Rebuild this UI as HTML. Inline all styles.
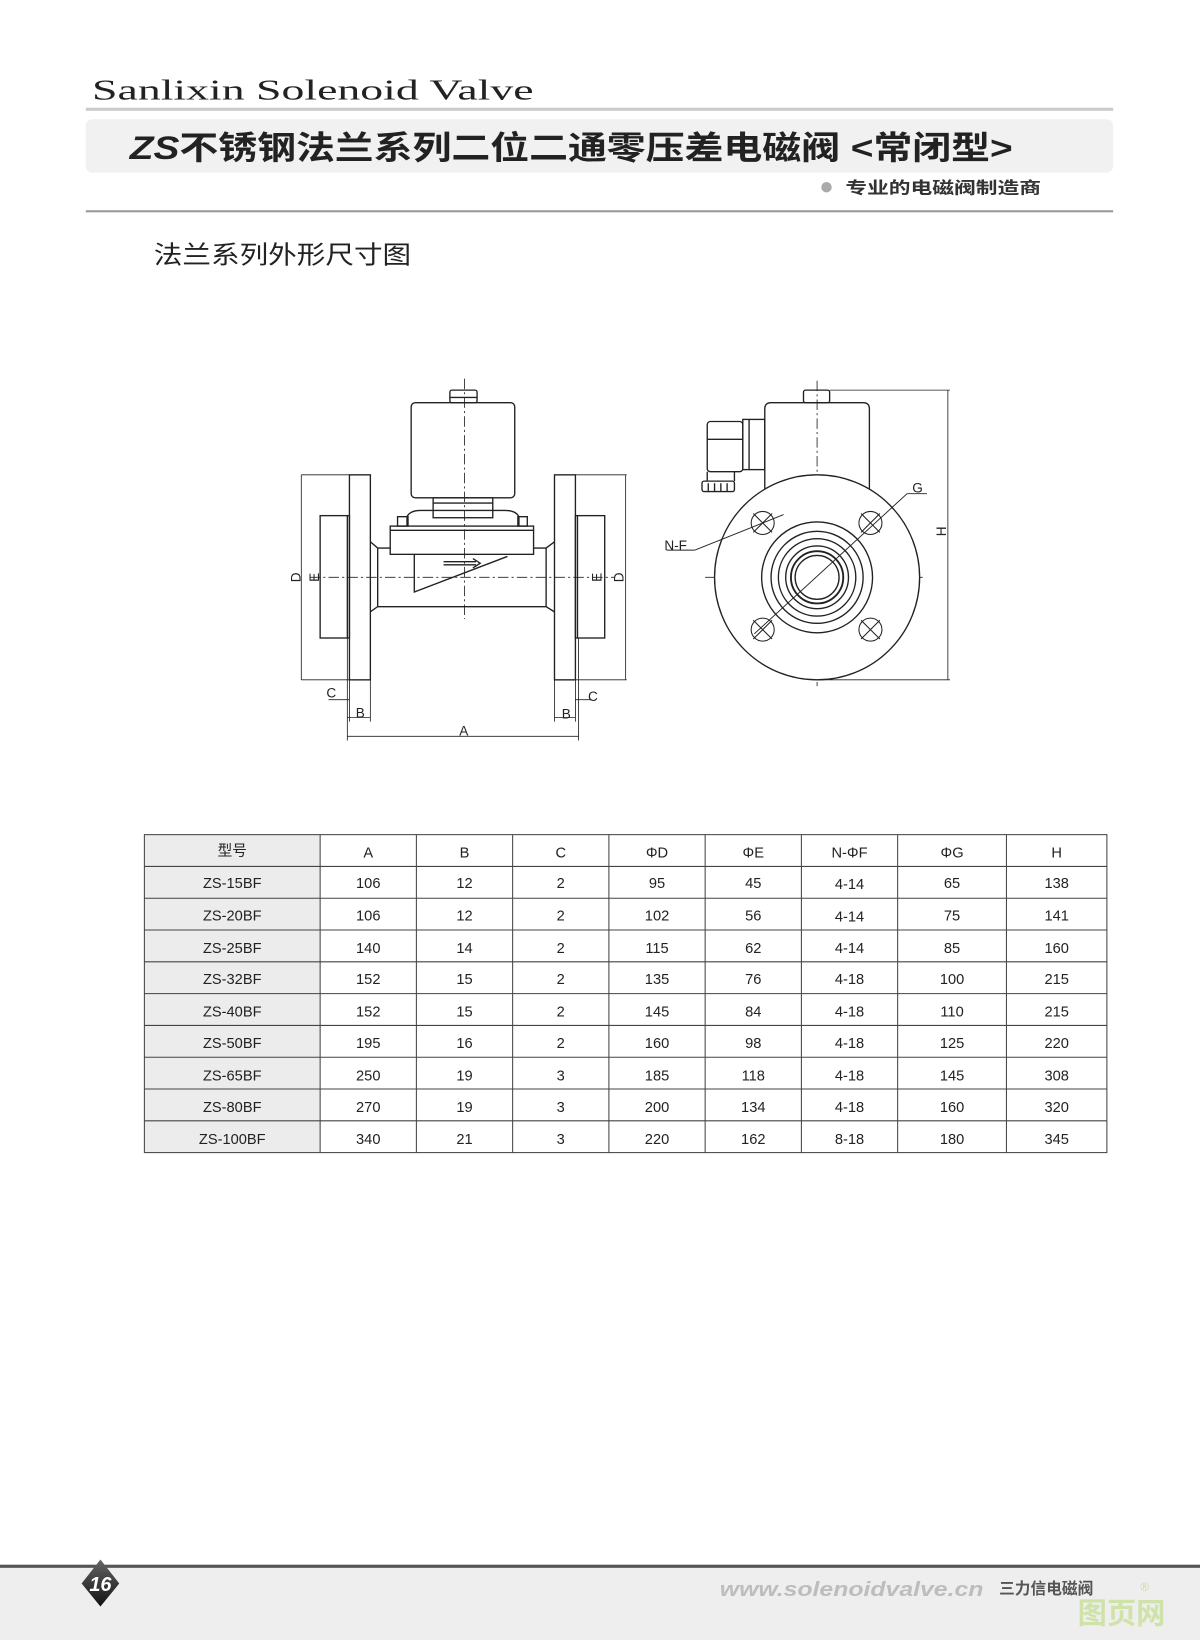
<!DOCTYPE html>
<html><head><meta charset="utf-8"><style>
html,body{margin:0;padding:0;background:#fff;}
svg{display:block;}
text{font-family:"Liberation Sans","Noto Sans CJK SC",sans-serif;}
</style></head><body>
<svg width="1200" height="1640" viewBox="0 0 1147 1568" preserveAspectRatio="none" xmlns="http://www.w3.org/2000/svg">
<defs>
<linearGradient id="dg" x1="0" y1="0" x2="0" y2="1"><stop offset="0" stop-color="#666"/><stop offset="1" stop-color="#111"/></linearGradient>
</defs>
<!-- header -->
<text x="88" y="95" font-size="27" fill="#222" style="font-family:'Liberation Serif',serif" textLength="422" lengthAdjust="spacingAndGlyphs">Sanlixin Solenoid Valve</text>
<rect x="82" y="103" width="982" height="3" fill="#ccc"/>
<rect x="82" y="114" width="982" height="51" rx="6" fill="#f1f1f1"/>
<text x="124" y="152" font-size="31" font-weight="bold" fill="#222" textLength="844" lengthAdjust="spacingAndGlyphs" style="font-family:'Liberation Sans','Noto Sans CJK SC',sans-serif"><tspan font-style="italic">ZS</tspan>不锈钢法兰系列二位二通零压差电磁阀 &lt;常闭型&gt;</text>
<circle cx="790" cy="179" r="5" fill="#aaa"/>
<text x="808" y="185" font-size="16" font-weight="bold" fill="#333" textLength="187" lengthAdjust="spacingAndGlyphs">专业的电磁阀制造商</text>
<rect x="82" y="201" width="982" height="2" fill="#999"/>
<text x="147" y="252" font-size="24" fill="#222" textLength="246" lengthAdjust="spacingAndGlyphs">法兰系列外形尺寸图</text>

<!-- left view -->
<g fill="none" stroke="#222" stroke-width="1.3">
<rect x="393" y="385" width="99" height="91" rx="4"/>
<rect x="430" y="373" width="26" height="12" rx="2"/>
<line x1="430" y1="380" x2="456" y2="380"/>
<rect x="414" y="476" width="57" height="19"/>
<line x1="414" y1="481" x2="471" y2="481"/>
<path d="M389 503 L389 494 Q392 488 402 488 L483 488 Q493 488 496 494 L496 503"/>
<rect x="380" y="494" width="10" height="9"/><rect x="495" y="494" width="9" height="9"/>
<rect x="373" y="503" width="137" height="27"/>
<line x1="373" y1="507" x2="510" y2="507"/>
<path d="M396 530 L396 566 L485 532"/>
<path d="M424 537 L455 537 M424 540 L455 540 M452 534 L459 538.5 L452 543"/>
<path d="M354 518 L361 524 L373 524 M510 524 L522 524 L530 518"/>
<path d="M354 585 L361 580 L522 580 L530 585"/>
<line x1="361" y1="524" x2="361" y2="580"/><line x1="522" y1="524" x2="522" y2="580"/>
<rect x="334" y="454" width="20" height="196"/>
<rect x="306" y="493" width="28" height="117"/>
<line x1="332" y1="493" x2="332" y2="610"/>
<rect x="530" y="454" width="20" height="196"/>
<rect x="550" y="493" width="28" height="117"/>
<line x1="552" y1="493" x2="552" y2="610"/>
<!-- D dims -->
<line x1="288" y1="454" x2="334" y2="454" stroke-width="0.8"/>
<line x1="288" y1="650" x2="334" y2="650" stroke-width="0.8"/>
<line x1="288" y1="454" x2="288" y2="650" stroke-width="0.8"/>
<line x1="550" y1="454" x2="599" y2="454" stroke-width="0.8"/>
<line x1="550" y1="650" x2="599" y2="650" stroke-width="0.8"/>
<line x1="598" y1="454" x2="598" y2="650" stroke-width="0.8"/>
<!-- bottom dims -->
<line x1="332" y1="610" x2="332" y2="708" stroke-width="0.8"/>
<line x1="334" y1="650" x2="334" y2="690" stroke-width="0.8"/>
<line x1="354" y1="650" x2="354" y2="690" stroke-width="0.8"/>
<line x1="530" y1="650" x2="530" y2="690" stroke-width="0.8"/>
<line x1="550" y1="650" x2="550" y2="690" stroke-width="0.8"/>
<line x1="553" y1="610" x2="553" y2="708" stroke-width="0.8"/>
<line x1="314" y1="669" x2="334" y2="669" stroke-width="0.8"/>
<line x1="550" y1="669" x2="565" y2="669" stroke-width="0.8"/>
<line x1="332" y1="686" x2="354" y2="686" stroke-width="0.8"/>
<line x1="530" y1="686" x2="550" y2="686" stroke-width="0.8"/>
<line x1="332" y1="704" x2="553" y2="704" stroke-width="0.8"/>
</g>
<g stroke="#222" stroke-width="0.8" stroke-dasharray="10,3,2,3" fill="none">
<line x1="444" y1="362" x2="444" y2="592"/>
<line x1="296" y1="552" x2="588" y2="552"/>
<line x1="781" y1="364" x2="781" y2="656"/>
<line x1="674" y1="552" x2="885" y2="552"/>
</g>
<g font-size="13" fill="#222">
<text x="283" y="552" transform="rotate(-90 283 552)" text-anchor="middle" dy="4">D</text>
<text x="301" y="552" transform="rotate(-90 301 552)" text-anchor="middle" dy="4">E</text>
<text x="571" y="552" transform="rotate(-90 571 552)" text-anchor="middle" dy="4">E</text>
<text x="592" y="552" transform="rotate(-90 592 552)" text-anchor="middle" dy="4">D</text>
<text x="312" y="667">C</text>
<text x="562" y="670">C</text>
<text x="340" y="686">B</text>
<text x="537" y="687">B</text>
<text x="439" y="703">A</text>
<text x="872" y="471">G</text>
<text x="635" y="526">N-F</text>
<text x="900" y="508" transform="rotate(-90 900 508)" text-anchor="middle" dy="4">H</text>
</g>

<!-- right view -->
<g fill="none" stroke="#222" stroke-width="1.3">
<path d="M731 467 L731 391 Q731 385 737 385 L825 385 Q831 385 831 391 L831 467"/>
<rect x="768" y="373" width="25" height="12" rx="2"/>
<rect x="710" y="401" width="21" height="48"/>
<line x1="716" y1="401" x2="716" y2="449"/>
<rect x="676" y="403" width="34" height="48" rx="3"/>
<line x1="676" y1="420" x2="710" y2="420"/>
<path d="M676 451 L676 460 M702 451 L702 460"/>
<rect x="671" y="460" width="31" height="10" rx="2"/>
<path d="M677 462 L677 470 M683 462 L683 470 M689 462 L689 470 M695 462 L695 470"/>
<circle cx="781" cy="552" r="98" fill="#fff"/>
<circle cx="781" cy="552" r="53"/>
<circle cx="781" cy="552" r="44"/>
<circle cx="781" cy="552" r="37"/>
<circle cx="781" cy="552" r="30"/>
<circle cx="781" cy="552" r="25" stroke-width="1.8"/>
<circle cx="781" cy="552" r="21"/>
<g stroke-width="1">
<circle cx="729" cy="500" r="11"/><circle cx="832" cy="500" r="11"/>
<circle cx="729" cy="602" r="11"/><circle cx="832" cy="602" r="11"/>
<path d="M720 491 L738 509 M738 491 L720 509 M823 491 L841 509 M841 491 L823 509 M720 593 L738 611 M738 593 L720 611 M823 593 L841 611 M841 593 L823 611"/>
</g>
<line x1="721" y1="606" x2="867" y2="472" stroke-width="0.9"/>
<line x1="867" y1="472" x2="886" y2="472" stroke-width="0.9"/>
<line x1="637" y1="526" x2="664" y2="526" stroke-width="0.9"/>
<line x1="664" y1="526" x2="749" y2="492" stroke-width="0.9"/>
<line x1="793" y1="373" x2="908" y2="373" stroke-width="0.8"/>
<line x1="781" y1="650" x2="908" y2="650" stroke-width="0.8"/>
<line x1="906" y1="373" x2="906" y2="650" stroke-width="0.8"/>
</g>

<!-- table -->
<g>
<rect x="138" y="798" width="168" height="304" fill="#ececec"/>
<g stroke="#444" stroke-width="1" fill="none">
<rect x="138" y="798" width="920" height="304"/>
<path d="M306 798V1102M398 798V1102M490 798V1102M582 798V1102M674 798V1102M766 798V1102M858 798V1102M962 798V1102"/>
<path d="M138 828.4H1058M138 858.8H1058M138 889.2H1058M138 919.6H1058M138 950H1058M138 980.4H1058M138 1010.8H1058M138 1041.2H1058M138 1071.6H1058"/>
</g>
<g font-size="14" fill="#222" text-anchor="middle">
<text x="222" y="818">型号</text><text x="352" y="820">A</text><text x="444" y="820">B</text><text x="536" y="820">C</text><text x="628" y="820">ΦD</text><text x="720" y="820">ΦE</text><text x="812" y="820">N-ΦF</text><text x="910" y="820">ΦG</text><text x="1010" y="820">H</text>
<text x="222" y="849">ZS-15BF</text><text x="352" y="849">106</text><text x="444" y="849">12</text><text x="536" y="849">2</text><text x="628" y="849">95</text><text x="720" y="849">45</text><text x="812" y="850">4-14</text><text x="910" y="849">65</text><text x="1010" y="849">138</text>
<text x="222" y="880">ZS-20BF</text><text x="352" y="880">106</text><text x="444" y="880">12</text><text x="536" y="880">2</text><text x="628" y="880">102</text><text x="720" y="880">56</text><text x="812" y="881">4-14</text><text x="910" y="880">75</text><text x="1010" y="880">141</text>
<text x="222" y="911">ZS-25BF</text><text x="352" y="911">140</text><text x="444" y="911">14</text><text x="536" y="911">2</text><text x="628" y="911">115</text><text x="720" y="911">62</text><text x="812" y="911">4-14</text><text x="910" y="911">85</text><text x="1010" y="911">160</text>
<text x="222" y="941">ZS-32BF</text><text x="352" y="941">152</text><text x="444" y="941">15</text><text x="536" y="941">2</text><text x="628" y="941">135</text><text x="720" y="941">76</text><text x="812" y="941">4-18</text><text x="910" y="941">100</text><text x="1010" y="941">215</text>
<text x="222" y="972">ZS-40BF</text><text x="352" y="972">152</text><text x="444" y="972">15</text><text x="536" y="972">2</text><text x="628" y="972">145</text><text x="720" y="972">84</text><text x="812" y="972">4-18</text><text x="910" y="972">110</text><text x="1010" y="972">215</text>
<text x="222" y="1002">ZS-50BF</text><text x="352" y="1002">195</text><text x="444" y="1002">16</text><text x="536" y="1002">2</text><text x="628" y="1002">160</text><text x="720" y="1002">98</text><text x="812" y="1002">4-18</text><text x="910" y="1002">125</text><text x="1010" y="1002">220</text>
<text x="222" y="1033">ZS-65BF</text><text x="352" y="1033">250</text><text x="444" y="1033">19</text><text x="536" y="1033">3</text><text x="628" y="1033">185</text><text x="720" y="1033">118</text><text x="812" y="1033">4-18</text><text x="910" y="1033">145</text><text x="1010" y="1033">308</text>
<text x="222" y="1063">ZS-80BF</text><text x="352" y="1063">270</text><text x="444" y="1063">19</text><text x="536" y="1063">3</text><text x="628" y="1063">200</text><text x="720" y="1063">134</text><text x="812" y="1063">4-18</text><text x="910" y="1063">160</text><text x="1010" y="1063">320</text>
<text x="222" y="1094">ZS-100BF</text><text x="352" y="1094">340</text><text x="444" y="1094">21</text><text x="536" y="1094">3</text><text x="628" y="1094">220</text><text x="720" y="1094">162</text><text x="812" y="1094">8-18</text><text x="910" y="1094">180</text><text x="1010" y="1094">345</text>
</g>
</g>

<!-- footer -->
<rect x="0" y="1498" width="1147" height="70" fill="#eeeeee"/>
<rect x="0" y="1496" width="1147" height="3" fill="#555"/>
<polygon points="96,1491 114,1514 96,1536 78,1514" fill="url(#dg)"/>
<text x="96" y="1521" font-size="19" font-weight="bold" font-style="italic" fill="#fff" text-anchor="middle">16</text>
<text x="688" y="1526" font-size="19" font-weight="bold" font-style="italic" fill="#bdbdbd" textLength="252" lengthAdjust="spacingAndGlyphs">www.solenoidvalve.cn</text>
<text x="955" y="1524" font-size="15" font-weight="bold" fill="#555">三力信电磁阀</text>
<text x="1090" y="1521" font-size="11" fill="#c6dd9c">®</text>
<text x="1030" y="1552" font-size="28" font-weight="bold" fill="#cfe3a8">图页网</text>
</svg>
</body></html>
